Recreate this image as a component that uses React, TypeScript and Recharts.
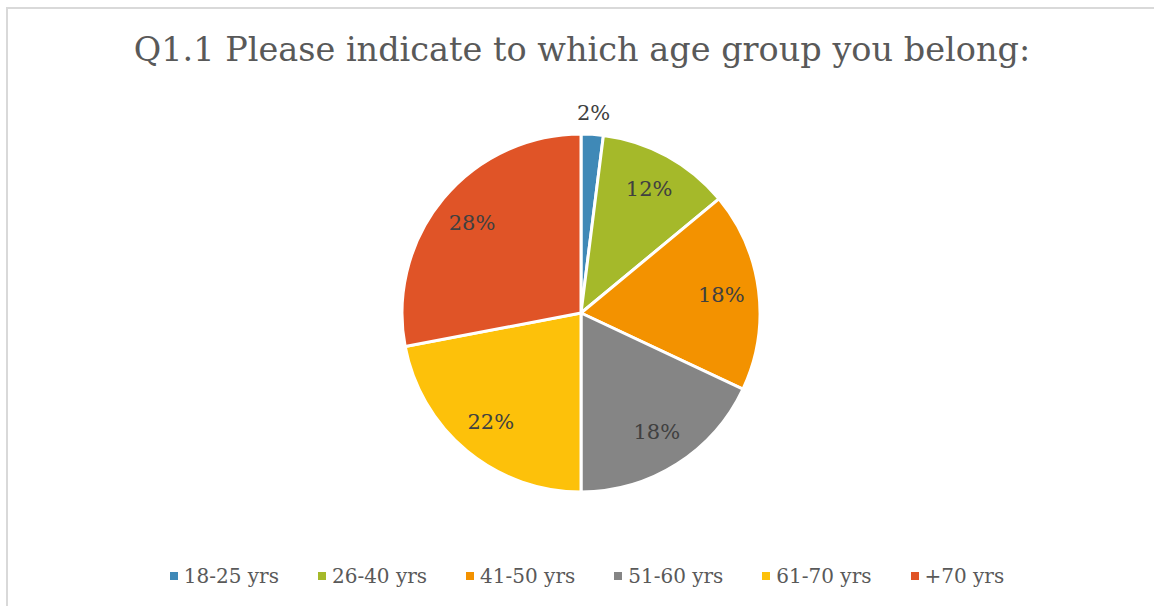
import React from 'react';
import { PieChart, Pie, Cell, Legend } from 'recharts';

const groups = ['18-25 yrs', '26-40 yrs', '41-50 yrs', '51-60 yrs', '61-70 yrs', '+70 yrs'];
const shares = [2, 12, 18, 18, 22, 28];
const colors = ['#3f89b7', '#a5b92a', '#f39200', '#858585', '#fdc10a', '#e05427'];

const data = groups.map((name, i) => ({ name, value: shares[i] }));

const FONT = '"DejaVu Serif", serif';
const RAD = Math.PI / 180;

const renderLabel = ({ cx, cy, midAngle, outerRadius, value }: any) => {
  // small slices get their label outside the pie
  const r = value < 5 ? outerRadius + 21 : outerRadius * 0.79;
  const x = cx + r * Math.cos(-midAngle * RAD);
  const y = cy + r * Math.sin(-midAngle * RAD);
  return (
    <text x={x} y={y} fill="#404040" fontSize={21} fontFamily={FONT}
      textAnchor="middle" dominantBaseline="central">
      {value}%
    </text>
  );
};

const LegendContent = () => (
  <div style={{ display: 'flex', justifyContent: 'center', gap: 39, paddingLeft: 20, fontFamily: FONT, fontSize: 20, color: '#595959' }}>
    {groups.map((g, i) => (
      <div key={g} style={{ display: 'flex', alignItems: 'center' }}>
        <span style={{ width: 8, height: 8, background: colors[i], marginRight: 6, display: 'inline-block' }} />
        {g}
      </div>
    ))}
  </div>
);

export default function App() {
  return (
    <div style={{ position: 'fixed', left: 0, top: 0, width: 1154, height: 606, background: '#fff', overflow: 'hidden' }}>
      <div style={{ position: 'absolute', left: 6, top: 7, right: 0, bottom: 0, borderTop: '2px solid #d9d9d9', borderLeft: '2px solid #d9d9d9' }} />
      <div style={{ position: 'absolute', left: 0, width: 1164, top: 30, textAlign: 'center', fontFamily: FONT, fontSize: 33.5, color: '#595959', whiteSpace: 'nowrap' }}>
        Q1.1 Please indicate to which age group you belong:
      </div>
      <div style={{ position: 'absolute', left: 0, top: 0 }}>
        <PieChart width={1154} height={606} margin={{ top: 0, right: 0, bottom: 0, left: 0 }}>
          <Pie
            data={data}
            dataKey="value"
            nameKey="name"
            cx={581}
            cy={313}
            outerRadius={179}
            startAngle={90}
            endAngle={-270}
            stroke="#fff"
            strokeWidth={3}
            label={renderLabel}
            labelLine={false}
            isAnimationActive={false}
          >
            {data.map((d, i) => <Cell key={d.name} fill={colors[i]} />)}
          </Pie>
          <Legend content={<LegendContent />} verticalAlign="bottom" wrapperStyle={{ bottom: 18 }} />
        </PieChart>
      </div>
    </div>
  );
}
